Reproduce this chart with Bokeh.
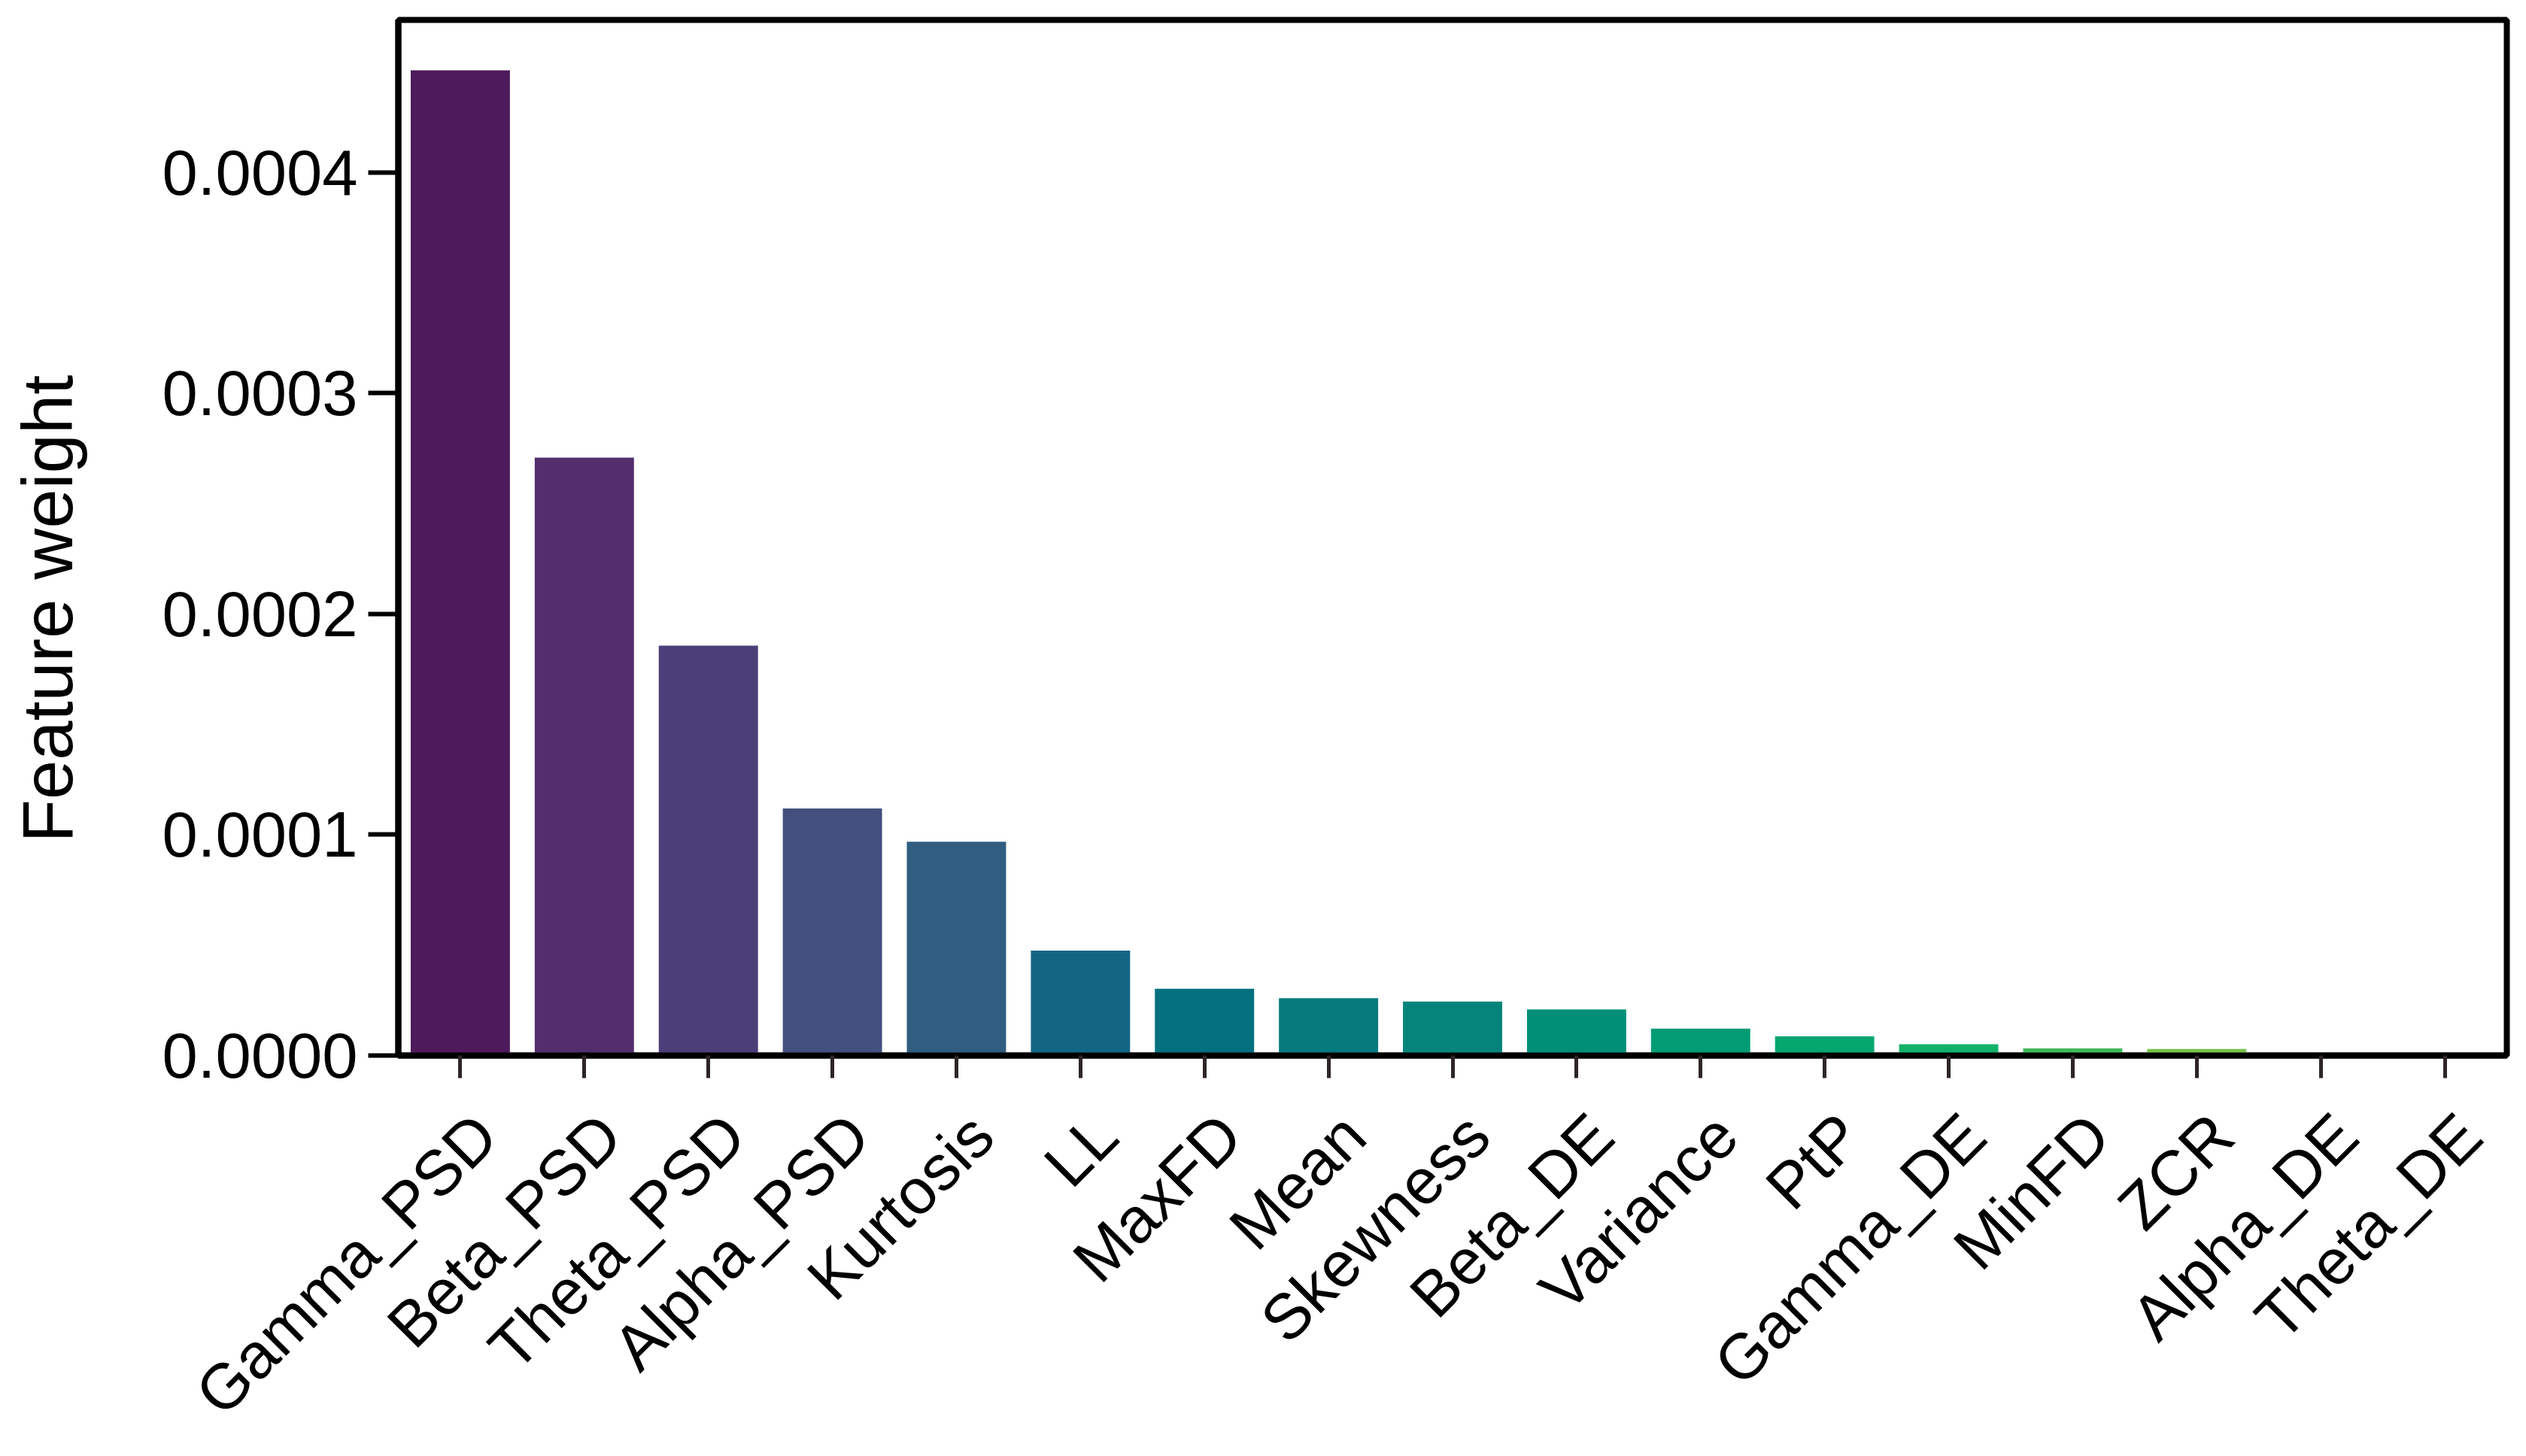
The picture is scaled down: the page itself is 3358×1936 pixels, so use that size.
import math
from bokeh.plotting import figure
from bokeh.models import (ColumnDataSource, Range1d, FixedTicker,
                          PrintfTickFormatter, LinearAxis, Title)
from bokeh.embed import file_html
from bokeh.resources import INLINE

features = ["Gamma_PSD", "Beta_PSD", "Theta_PSD", "Alpha_PSD", "Kurtosis", "LL", "MaxFD",
            "Mean", "Skewness", "Beta_DE", "Variance", "PtP", "Gamma_DE", "MinFD", "ZCR",
            "Alpha_DE", "Theta_DE"]
weights = [0.0004462, 0.0002708, 0.0001856, 0.0001119, 0.0000968, 0.0000475, 0.0000302,
           0.0000260, 0.0000244, 0.0000209, 0.0000122, 0.0000087, 0.0000051, 0.0000032,
           0.0000030, 0.0, 0.0]
colors = ["#4f1a5c", "#522e6c", "#4c3e78", "#43507f", "#305d80", "#136682", "#03707f",
          "#067a7d", "#05847b", "#028f78", "#019b74", "#05a76f", "#12b169", "#42b95b",
          "#77c24a", "#a9cb3a", "#d6d230"]
y_ticks = [0.0, 0.0001, 0.0002, 0.0003, 0.0004]
y_label = "Feature weight"

n = len(features)
centers = [i + 0.5 for i in range(n)]          # category slots on the x scale
src = ColumnDataSource(dict(x=centers, feature=features, weight=weights, color=colors))

p = figure(width=3358, height=1936, x_range=Range1d(0, n),
           y_range=Range1d(0, 0.000469), output_backend="svg", toolbar_location=None,
           min_border_left=529, min_border_right=26, min_border_top=26, min_border_bottom=500)

p.vbar(x="x", top="weight", width=0.8, color="color", line_color=None, source=src)

p.xgrid.visible = False
p.ygrid.visible = False
p.outline_line_color = "black"
p.outline_line_width = 8

font = "Liberation Sans"
p.yaxis.ticker = FixedTicker(ticks=y_ticks)
p.yaxis.formatter = PrintfTickFormatter(format="%.4f")
for ax in (p.xaxis[0], p.yaxis[0]):
    ax.axis_line_color = "black"
    ax.axis_line_width = 8
    ax.major_label_text_font = font
    ax.major_label_text_font_size = "85px"
    ax.major_label_text_color = "black"
    ax.minor_tick_line_color = None
    ax.major_tick_in = 0

p.yaxis.major_tick_out = 40
p.yaxis.major_tick_line_width = 6
p.yaxis.major_tick_line_color = "black"
p.yaxis.major_label_standoff = 14

# category axis: tick marks only
p.xaxis.ticker = FixedTicker(ticks=centers)
p.xaxis.major_tick_out = 30
p.xaxis.major_tick_line_width = 5
p.xaxis.major_tick_line_color = "#2e2626"
p.xaxis.major_label_overrides = {c: "" for c in centers}
p.xaxis.major_label_text_font_size = "1px"
p.xaxis.major_label_standoff = 0

# label axis: the category names, rotated, set slightly right of each tick
label_pos = [c + 0.206 for c in centers]
lab_axis = LinearAxis(ticker=FixedTicker(ticks=label_pos),
                      major_label_overrides={pos: f for pos, f in zip(label_pos, features)},
                      major_label_orientation=math.pi / 4, major_label_standoff=62,
                      major_tick_out=0, major_tick_in=0, minor_tick_line_color=None,
                      major_tick_line_color=None, axis_line_color=None,
                      major_label_text_font=font, major_label_text_font_size="85px",
                      major_label_text_color="black")
p.add_layout(lab_axis, "below")

# invisible spacer between the tick labels and the y title
spacer_tick = 0.00045
spacer = LinearAxis(ticker=FixedTicker(ticks=[spacer_tick]),
                    major_label_overrides={spacer_tick: ""},
                    major_tick_out=97, major_tick_in=0, major_label_standoff=0,
                    major_label_text_font_size="1px",
                    major_tick_line_color="white", major_tick_line_width=1,
                    minor_tick_line_color=None, axis_line_color=None)
p.add_layout(spacer, "left")

ylab = Title(text=y_label, align="left", offset=283, standoff=0, text_font=font,
             text_font_size="94px", text_font_style="normal", text_color="black")
p.add_layout(ylab, "left")

open("out.html", "w").write(file_html(p, INLINE))
